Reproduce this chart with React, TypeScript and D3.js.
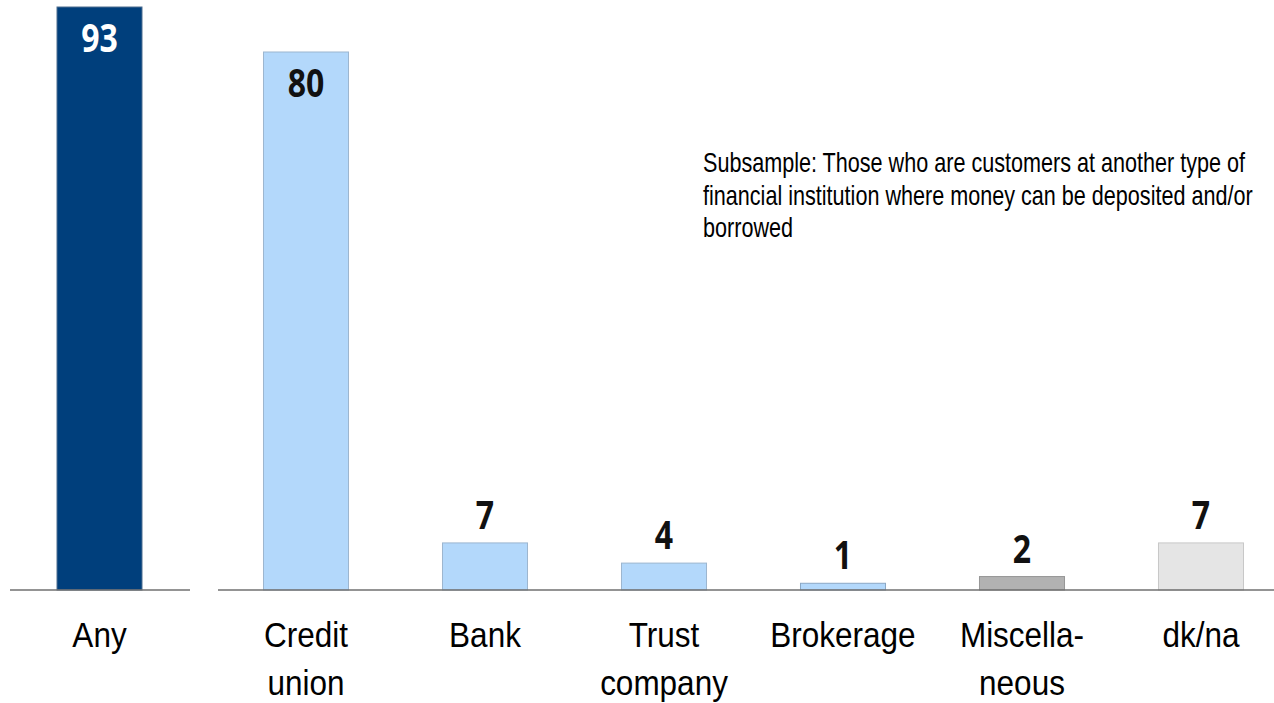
import React from "react";
import * as d3 from "d3";

const leftCategories = ["Any"];
const leftValues = [93];
const rightCategories = ["Credit union", "Bank", "Trust company", "Brokerage", "Miscella- neous", "dk/na"];
const rightLabelLines = [["Credit", "union"], ["Bank"], ["Trust", "company"], ["Brokerage"], ["Miscella-", "neous"], ["dk/na"]];
const rightValues = [80, 7, 4, 1, 2, 7];
const rightFills = ["#b3d8fb", "#b3d8fb", "#b3d8fb", "#b3d8fb", "#b2b2b2", "#e5e5e5"];
const rightStrokes = ["#9cb6cf", "#9cb6cf", "#9cb6cf", "#8aa7c4", "#969696", "#c8c8c8"];
const note = [
  "Subsample: Those who are customers at another type of",
  "financial institution where money can be deposited and/or",
  "borrowed",
];

const W = 1274;
const H = 703;
const baseY = 590;
const SANS = "'Liberation Sans', Arial, sans-serif";
const NUM = "'Open Sans', 'Liberation Sans', sans-serif";

function CatLabel({ cx, y, text }: { cx: number; y: number; text: string }) {
  return (
    <text transform={`translate(${cx},${y}) scale(0.9,1)`} x={0} y={0} textAnchor="middle" fill="#000"
      fontFamily={SANS} fontSize={35}>{text}</text>
  );
}

function ValLabel({ cx, y, text, fill }: { cx: number; y: number; text: string; fill: string }) {
  return (
    <text transform={`translate(${cx},${y}) scale(0.8,1)`} x={0} y={0} textAnchor="middle" fill={fill}
      fontFamily={NUM} fontWeight={700} fontSize={40}>{text}</text>
  );
}

export default function App() {
  const xL = d3.scaleBand<string>().domain(leftCategories).range([57, 142]).paddingInner(0).paddingOuter(0);
  const yL = d3.scaleLinear().domain([0, 93]).range([baseY, 7]);
  const xR = d3.scaleBand<string>().domain(rightCategories).range([216.5, 1290.5]).paddingInner(0.525).paddingOuter(0.2625);
  const yR = d3.scaleLinear().domain([0, 80]).range([baseY, 52]);

  return (
    <svg width={W} height={H} style={{ position: "absolute", left: 0, top: 0, background: "#fff" }}>
      {leftCategories.map((c, i) => {
        const cx = xL(c)! + xL.bandwidth() / 2;
        return (
          <g key={c}>
            <rect x={xL(c)} y={yL(leftValues[i])} width={xL.bandwidth()} height={baseY - yL(leftValues[i])}
              fill="#003f7c" stroke="#4f6f90" strokeWidth={1} />
            <ValLabel cx={cx} y={yL(leftValues[i]) + 45} text={String(leftValues[i])} fill="#fff" />
            <CatLabel cx={cx} y={647} text={c} />
          </g>
        );
      })}
      <line x1={10} x2={190} y1={baseY} y2={baseY} stroke="#707070" strokeWidth={1.5} />
      {rightCategories.map((c, i) => {
        const x = xR(c)!;
        const bw = xR.bandwidth();
        const y = yR(rightValues[i]);
        const inside = i === 0;
        return (
          <g key={c}>
            <rect x={x} y={y} width={bw} height={baseY - y} fill={rightFills[i]} stroke={rightStrokes[i]} strokeWidth={1} />
            <ValLabel cx={x + bw / 2} y={inside ? y + 45 : y - 14} text={String(rightValues[i])} fill="#111" />
            {rightLabelLines[i].map((ln, j) => (
              <CatLabel key={j} cx={x + bw / 2} y={647 + j * 48} text={ln} />
            ))}
          </g>
        );
      })}
      <line x1={218} x2={1274} y1={baseY} y2={baseY} stroke="#707070" strokeWidth={1.5} />
      {note.map((ln, i) => (
        <text key={i} transform={`translate(703,${172 + i * 32.5}) scale(0.8,1)`} fill="#000" fontFamily={SANS} fontSize={27}>{ln}</text>
      ))}
    </svg>
  );
}
